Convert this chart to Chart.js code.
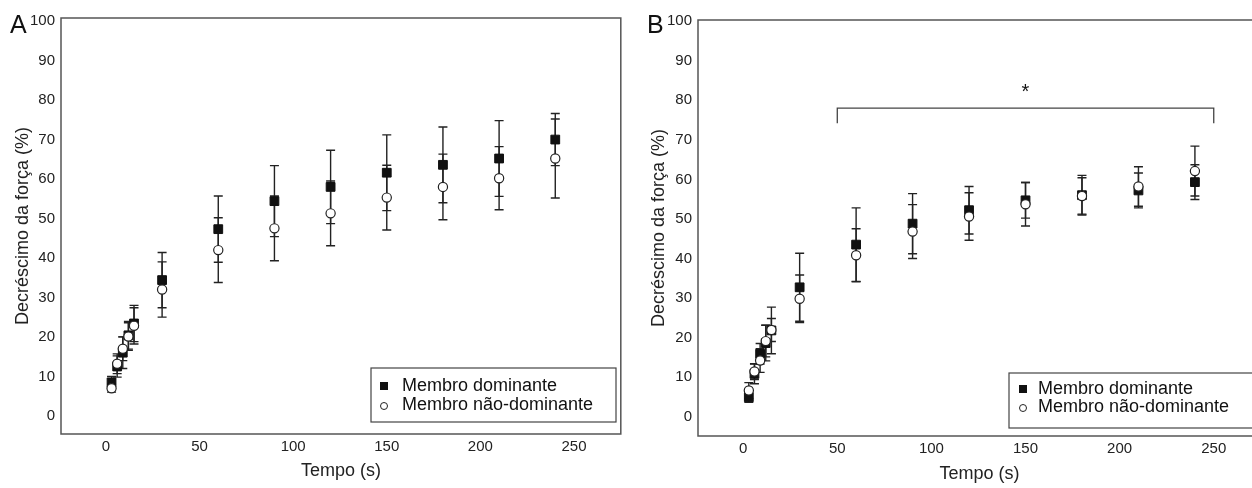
<!DOCTYPE html>
<html>
<head>
<meta charset="utf-8">
<script src="https://cdn.jsdelivr.net/npm/chart.js@4.4.1/dist/chart.umd.min.js"></script>
<style>
  html, body { margin: 0; padding: 0; background: #fff; overflow: hidden; width: 1252px; height: 488px; }
  .wrap { position: absolute; top: 0; }
</style>
</head>
<body>
<div class="wrap" style="left:0"><canvas id="chartA" width="628" height="488"></canvas></div>
<div class="wrap" style="left:628px"><canvas id="chartB" width="640" height="488"></canvas></div>
<script>
// tempo (s)
const times = [3, 6, 9, 12, 15, 30, 60, 90, 120, 150, 180, 210, 240];
const xTicks = [0, 50, 100, 150, 200, 250];
const yTicks = [0, 10, 20, 30, 40, 50, 60, 70, 80, 90, 100];
const seriesNames = ['Membro dominante', 'Membro não-dominante'];

// painel A
const domA = [8.5, 12.5, 16, 20.4, 23.4, 34.4, 47.3, 54.4, 58, 61.6, 63.6, 65.2, 70];
const domErrA = [1.5, 2.7, 4, 3.5, 4.6, 7, 8.4, 9, 9.3, 9.6, 9.6, 9.6, 6.6];
const nonA = [7, 13.2, 17, 20.1, 22.8, 32, 42, 47.5, 51.3, 55.3, 58, 60.2, 65.2];
const nonErrA = [1, 2.5, 3, 3.5, 4.6, 7, 8.2, 8.2, 8.2, 8.2, 8.3, 8, 10];

// painel B
const domB = [4.9, 10.8, 15.9, 18.6, 21.8, 32.7, 43.5, 48.8, 52.2, 54.7, 56, 57.2, 59.3];
const domErrB = [1.3, 2.5, 2.6, 4.5, 5.9, 8.6, 9.3, 7.6, 6, 4.5, 5, 4.4, 4.4];
const nonB = [6.6, 11.4, 14.2, 19.1, 21.9, 29.8, 40.8, 46.8, 50.6, 53.7, 55.8, 58.2, 62.1];
const nonErrB = [2, 2, 3, 4, 2.9, 6, 6.7, 6.8, 6, 5.5, 4.6, 5, 6.3];

// colchete de significância em B (de 50 a 250 s)
const bracketB = { from: 50, to: 250, top: 78, drop: 74.2, starX: 150, starY: 80.6 };

const textColor = '#222';
const FONT = "'Liberation Sans', Arial, Helvetica, sans-serif";

const errorBars = {
  id: 'errorBars',
  beforeDatasetsDraw(chart) {
    const ctx = chart.ctx;
    const xs = chart.scales.x, ys = chart.scales.y;
    ctx.save();
    ctx.strokeStyle = '#222';
    ctx.lineWidth = 1.4;
    chart.data.datasets.forEach(ds => {
      ds.data.forEach((p, i) => {
        const e = ds.errors[i];
        const x = xs.getPixelForValue(p.x);
        const y1 = ys.getPixelForValue(p.y + e);
        const y2 = ys.getPixelForValue(p.y - e);
        ctx.beginPath();
        ctx.moveTo(x, y1); ctx.lineTo(x, y2);
        ctx.moveTo(x - 4.5, y1); ctx.lineTo(x + 4.5, y1);
        ctx.moveTo(x - 4.5, y2); ctx.lineTo(x + 4.5, y2);
        ctx.stroke();
      });
    });
    ctx.restore();
  }
};

const frame = {
  id: 'frame',
  afterDraw(chart, args, opts) {
    const ctx = chart.ctx;
    const a = chart.chartArea;
    ctx.save();
    ctx.strokeStyle = '#555';
    ctx.lineWidth = 1.5;
    ctx.strokeRect(a.left, a.top, a.right - a.left, a.bottom - a.top);

    // letra do painel
    ctx.fillStyle = '#111';
    ctx.font = '25px ' + FONT;
    ctx.textBaseline = 'alphabetic';
    ctx.fillText(opts.letter, opts.letterX, 33);

    // legenda
    const lg = opts.legend;
    ctx.strokeStyle = '#444';
    ctx.lineWidth = 1.2;
    ctx.strokeRect(lg.x, lg.y, lg.w, lg.h);
    ctx.font = '18px ' + FONT;
    ctx.textBaseline = 'middle';
    chart.data.datasets.forEach((ds, i) => {
      const cy = lg.y + lg.row0 + i * lg.rowGap;
      ctx.fillStyle = '#111';
      ctx.fillText(ds.label, lg.textX, cy);
      if (ds.pointStyle === 'rect') {
        ctx.fillRect(lg.markX - 4, cy - 4, 8, 8);
      } else {
        ctx.beginPath();
        ctx.arc(lg.markX, cy + 1, 3.5, 0, Math.PI * 2);
        ctx.fillStyle = '#fff';
        ctx.fill();
        ctx.strokeStyle = '#222';
        ctx.lineWidth = 1;
        ctx.stroke();
      }
    });

    // colchete
    const br = opts.bracket;
    if (br) {
      const xs = chart.scales.x, ys = chart.scales.y;
      const x1 = xs.getPixelForValue(br.from), x2 = xs.getPixelForValue(br.to);
      const yt = ys.getPixelForValue(br.top), yd = ys.getPixelForValue(br.drop);
      ctx.strokeStyle = '#444';
      ctx.lineWidth = 1.3;
      ctx.beginPath();
      ctx.moveTo(x1, yd); ctx.lineTo(x1, yt); ctx.lineTo(x2, yt); ctx.lineTo(x2, yd);
      ctx.stroke();
      ctx.fillStyle = '#111';
      ctx.font = '20px ' + FONT;
      ctx.textAlign = 'center';
      ctx.textBaseline = 'alphabetic';
      ctx.fillText('*', xs.getPixelForValue(br.starX), ys.getPixelForValue(br.starY));
    }
    ctx.restore();
  }
};

function makeChart(id, dom, domErr, non, nonErr, layout) {
  return new Chart(document.getElementById(id), {
    type: 'scatter',
    data: {
      datasets: [
        {
          label: seriesNames[0],
          data: times.map((t, i) => ({ x: t, y: dom[i] })),
          errors: domErr,
          pointStyle: 'rect',
          pointRadius: 6.2,
          backgroundColor: '#111',
          borderColor: '#111',
          borderWidth: 1,
          order: 1,
        },
        {
          label: seriesNames[1],
          data: times.map((t, i) => ({ x: t, y: non[i] })),
          errors: nonErr,
          pointStyle: 'circle',
          pointRadius: 4.6,
          backgroundColor: '#fff',
          borderColor: '#222',
          borderWidth: 1.2,
          order: 0,
        },
      ],
    },
    options: {
      responsive: false,
      animation: false,
      events: [],
      layout: { padding: { top: layout.top, right: layout.right, left: 0, bottom: 0 } },
      plugins: {
        legend: { display: false },
        tooltip: { enabled: false },
        frame: layout.frame,
      },
      scales: {
        x: {
          type: 'linear',
          min: -24,
          max: 275,
          grid: { display: false, drawTicks: false },
          border: { display: false },
          afterBuildTicks: s => { s.ticks = xTicks.map(v => ({ value: v })); },
          afterFit: s => { s.height = layout.xHeight; },
          ticks: { color: textColor, padding: 4, maxRotation: 0, font: { family: FONT, size: 15 } },
          title: {
            display: true,
            text: 'Tempo (s)',
            color: textColor,
            font: { family: FONT, size: 18 },
            padding: { top: 0, bottom: layout.xTitlePad },
          },
        },
        y: {
          type: 'linear',
          min: layout.yMin,
          max: layout.yMax,
          grid: { display: false, drawTicks: false },
          border: { display: false },
          afterBuildTicks: s => { s.ticks = yTicks.map(v => ({ value: v })); },
          afterFit: s => { s.width = layout.yWidth; },
          ticks: { color: textColor, padding: 6, font: { family: FONT, size: 15 } },
          title: {
            display: true,
            text: 'Decréscimo da força (%)',
            color: textColor,
            font: { family: FONT, size: 18 },
            padding: { top: layout.yTitlePad, bottom: 0 },
          },
        },
      },
    },
    plugins: [errorBars, frame],
  });
}

makeChart('chartA', domA, domErrA, nonA, nonErrA, {
  top: 18, right: 4, xHeight: 54, yWidth: 61, yMin: -4.6, yMax: 100.8,
  xTitlePad: 6, yTitlePad: 12,
  frame: {
    letter: 'A', letterX: 10,
    legend: { x: 371, y: 368, w: 245, h: 54, markX: 384, textX: 402, row0: 18, rowGap: 19 },
  },
});

makeChart('chartB', domB, domErrB, nonB, nonErrB, {
  top: 20, right: 7, xHeight: 52, yWidth: 70, yMin: -4.9, yMax: 100.3,
  xTitlePad: 3, yTitlePad: 20,
  frame: {
    letter: 'B', letterX: 19,
    legend: { x: 381, y: 373, w: 280, h: 55, markX: 395, textX: 410, row0: 16, rowGap: 18 },
    bracket: bracketB,
  },
});
</script>
</body>
</html>
